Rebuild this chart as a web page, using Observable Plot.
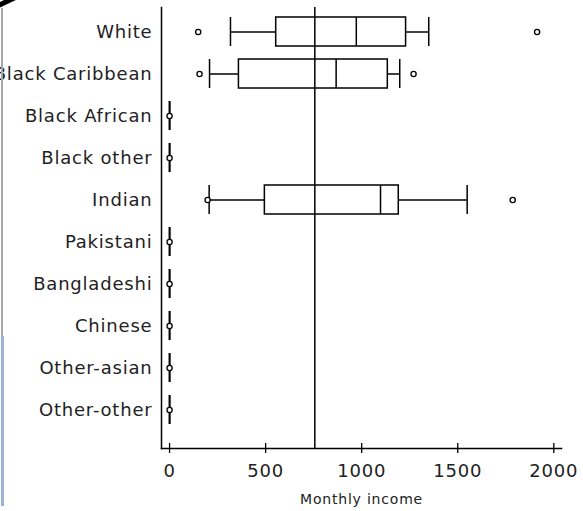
<!DOCTYPE html>
<html>
<head>
<meta charset="utf-8">
<script src="https://cdn.jsdelivr.net/npm/d3@7"></script>
<script src="https://cdn.jsdelivr.net/npm/@observablehq/plot@0.6"></script>
<style>
  html, body { margin: 0; padding: 0; background: #fff; }
  body { width: 583px; height: 511px; overflow: hidden; position: relative; }
  #edge { position: absolute; left: 1px; top: 8px; width: 2px; height: 328px; background: #a8a8a8; }
  #edge2 { position: absolute; left: 1px; top: 336px; width: 3px; height: 170px; background: #9bb3d9; }
  #corner { position: absolute; left: -4px; top: 4px; width: 36px; height: 5px; background: #000; transform: rotate(-25deg); transform-origin: left center; }
  svg text { font-family: "DejaVu Sans", Verdana, sans-serif; }
</style>
</head>
<body>
<div id="chart"></div>
<div id="edge"></div>
<div id="edge2"></div>
<div id="corner"></div>
<script>
const categories = ["White", "Black Caribbean", "Black African", "Black other", "Indian",
  "Pakistani", "Bangladeshi", "Chinese", "Other-asian", "Other-other"];
const whiskerLow  = [317, 208, 0, 0, 206, 0, 0, 0, 0, 0];
const quartile1   = [555, 361, 0, 0, 496, 0, 0, 0, 0, 0];
const medians     = [972, 867, 0, 0, 1098, 0, 0, 0, 0, 0];
const quartile3   = [1231, 1136, 0, 0, 1193, 0, 0, 0, 0, 0];
const whiskerHigh = [1349, 1198, 0, 0, 1549, 0, 0, 0, 0, 0];
const outlierCategories = ["White", "White", "Black Caribbean", "Black Caribbean", "Black African",
  "Black other", "Indian", "Indian", "Pakistani", "Bangladeshi", "Chinese", "Other-asian", "Other-other"];
const outlierValues = [149, 1913, 156, 1270, 0, 0, 198, 1786, 0, 0, 0, 0, 0];
const referenceLine = [756];
const xTicks = [0, 500, 1000, 1500, 2000];

const boxes = categories.map((c, i) => ({
  cat: c, lo: whiskerLow[i], q1: quartile1[i], med: medians[i], q3: quartile3[i], hi: whiskerHigh[i]
}));
const outliers = outlierCategories.map((c, i) => ({cat: c, v: outlierValues[i]}));

const W = 583, H = 511;
const mTop = 7, mBottom = 63, mLeft = 161, mRight = 22;

const chart = Plot.plot({
  width: W,
  height: H,
  marginTop: mTop,
  marginBottom: mBottom,
  marginLeft: mLeft,
  marginRight: mRight,
  style: {background: "#fff", color: "#000", fontSize: "17px", fontFamily: "DejaVu Sans"},
  x: {domain: [-42, 2040]},
  y: {domain: categories, range: [mTop, H - mBottom - 14.4], paddingInner: 0.32, paddingOuter: 0.16},
  marks: [
    Plot.frame({anchor: "left", stroke: "#000", strokeWidth: 1.5}),
    Plot.frame({anchor: "bottom", stroke: "#000", strokeWidth: 1.5}),
    Plot.ruleY(boxes, {y: "cat", x1: "lo", x2: "hi", stroke: "#000", strokeWidth: 1.5}),
    Plot.tickX(boxes, {y: "cat", x: "lo", stroke: "#000", strokeWidth: 1.5}),
    Plot.tickX(boxes, {y: "cat", x: "hi", stroke: "#000", strokeWidth: 1.5}),
    Plot.barX(boxes, {y: "cat", x1: "q1", x2: "q3", fill: "#fff", stroke: "#000", strokeWidth: 1.5}),
    Plot.tickX(boxes, {y: "cat", x: "med", stroke: "#000", strokeWidth: 1.5}),
    Plot.dot(outliers, {y: "cat", x: "v", r: 2.6, fill: "#fff", stroke: "#000", strokeWidth: 1.3}),
    Plot.ruleX(referenceLine, {stroke: "#000", strokeWidth: 1.5}),
    Plot.axisY({tickSize: 0, tickPadding: 9, label: null, fontSize: 18, fill: "#222"}),
    Plot.axisX({ticks: xTicks, tickSize: 5, dy: -5, text: null, label: null, strokeWidth: 1.3}),
    Plot.axisX({ticks: xTicks, tickSize: 5, tickPadding: 11, fontSize: 18, fill: "#222", strokeWidth: 1.3,
      tickFormat: d => String(d), label: null}),
    Plot.axisX({ticks: [], tickSize: 0, text: null, fontSize: 14, fill: "#222",
      label: "Monthly income", labelAnchor: "center", labelArrow: "none", labelOffset: 55})
  ]
});
chart.querySelectorAll("text").forEach(t => t.style.letterSpacing = "0.8px");
document.getElementById("chart").appendChild(chart);
</script>
</body>
</html>
